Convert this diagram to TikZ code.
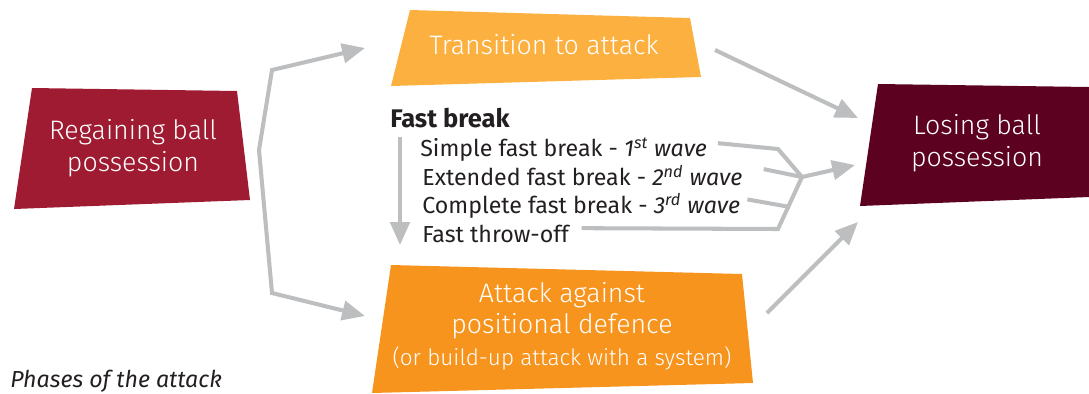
\documentclass[tikz,border=0pt]{standalone}
\usepackage{fontspec}
\setmainfont{Fira Sans}
\IfFontExistsTF{Fira Sans Light}{\newfontfamily\lightfont{Fira Sans Light}}{\newfontfamily\lightfont{Fira Sans}}
\usetikzlibrary{arrows.meta, positioning}
\definecolor{regainred}{HTML}{9E1B32}
\definecolor{transyellow}{HTML}{FBB040}
\definecolor{attackorange}{HTML}{F7941D}
\definecolor{losingmaroon}{HTML}{5C0120}
\definecolor{linkgray}{HTML}{BCBEC0}
\definecolor{textgray}{HTML}{231F20}

\begin{document}
\begin{tikzpicture}[
    x=0.02cm, y=-0.02cm,
    phase/.style={font=\lightfont\fontsize{15.2}{18}\selectfont, text=white,
                 align=center, inner sep=0pt},
    wave/.style={font=\fontsize{13.2}{15}\selectfont, text=textgray,
                anchor=base west, inner sep=0pt},
    link/.style={draw=linkgray, line width=2.3pt, line join=miter},
    arrow/.style={link, -{Triangle[length=13pt,width=11pt]}}
]
\useasboundingbox (0,0) rectangle (1089,393);

% Phase boxes
\fill[regainred] (32,88) -- (237,91) -- (250,200) -- (14,209) -- cycle;
\node[phase] at (133,148) (regain) {Regaining ball\\possession};

\fill[transyellow] (410,10) -- (690,18) -- (701,77) -- (391,86) -- cycle;
\node[phase] at (544,45) (transition) {Transition to attack};

\fill[attackorange] (391,265) -- (742,274) -- (753,383) -- (372,393) -- cycle;
\node[phase] at (562,326) (attack) {Attack against\\positional defence\\
    {\fontsize{12.8}{16}\selectfont (or build-up attack with a system)}};

\fill[losingmaroon] (878,84) -- (1089,87) -- (1089,197) -- (860,206) -- cycle;
\node[phase] at (977,143) (losing) {Losing ball\\possession};

% Fast break
\node[wave, font=\bfseries\fontsize{14.5}{16}\selectfont] at (390,127) (fastbreak) {Fast break};
\node[wave] at (420,156) (simple) {Simple fast break - {\itshape 1\textsuperscript{st} wave}};
\node[wave] at (422,185) (extended) {Extended fast break - {\itshape 2\textsuperscript{nd} wave}};
\node[wave] at (422,213) (complete) {Complete fast break - {\itshape 3\textsuperscript{rd} wave}};
\node[wave] at (422,242) (throwoff) {Fast throw-off};

\node[wave, font=\itshape\fontsize{13.2}{15}\selectfont] at (10,387) (caption) {Phases of the attack};

% Connector points
\coordinate (split) at (259,150);
\coordinate (split-top) at (272,70);
\coordinate (split-bottom) at (272,293);
\coordinate (trans-in) at (365,48);
\coordinate (attack-in) at (365,316);
\coordinate (trans-out) at (715,50);
\coordinate (attack-out) at (767,313);
\coordinate (losing-top) at (858,118);
\coordinate (losing-mid) at (855,165);
\coordinate (losing-bottom) at (858,222);
\coordinate (merge) at (802,177);
\coordinate (wave-start) at (400,137);
\coordinate (wave-end) at (400,245);

% Arrows
\draw[arrow] (split) -- (split-top) -- (trans-in);
\draw[arrow] (split) -- (split-bottom) -- (attack-in);
\draw[arrow] (trans-out) -- (losing-top);
\draw[arrow] (attack-out) -- (losing-bottom);
\draw[arrow] (wave-start) -- (wave-end);

\draw[link] ([xshift=6pt,yshift=3.5pt]simple.east) -- (778,149) -- (merge);
\draw[link] ([xshift=12pt,yshift=3.5pt]extended.east) -- (merge);
\draw[link] ([xshift=4pt,yshift=3.5pt]complete.east) -- (790,207);
\draw[link] ([xshift=7pt,yshift=3pt]throwoff.east) -- (778,229) -- (merge);
\draw[arrow] (merge) -- (losing-mid);

\end{tikzpicture}
\end{document}
